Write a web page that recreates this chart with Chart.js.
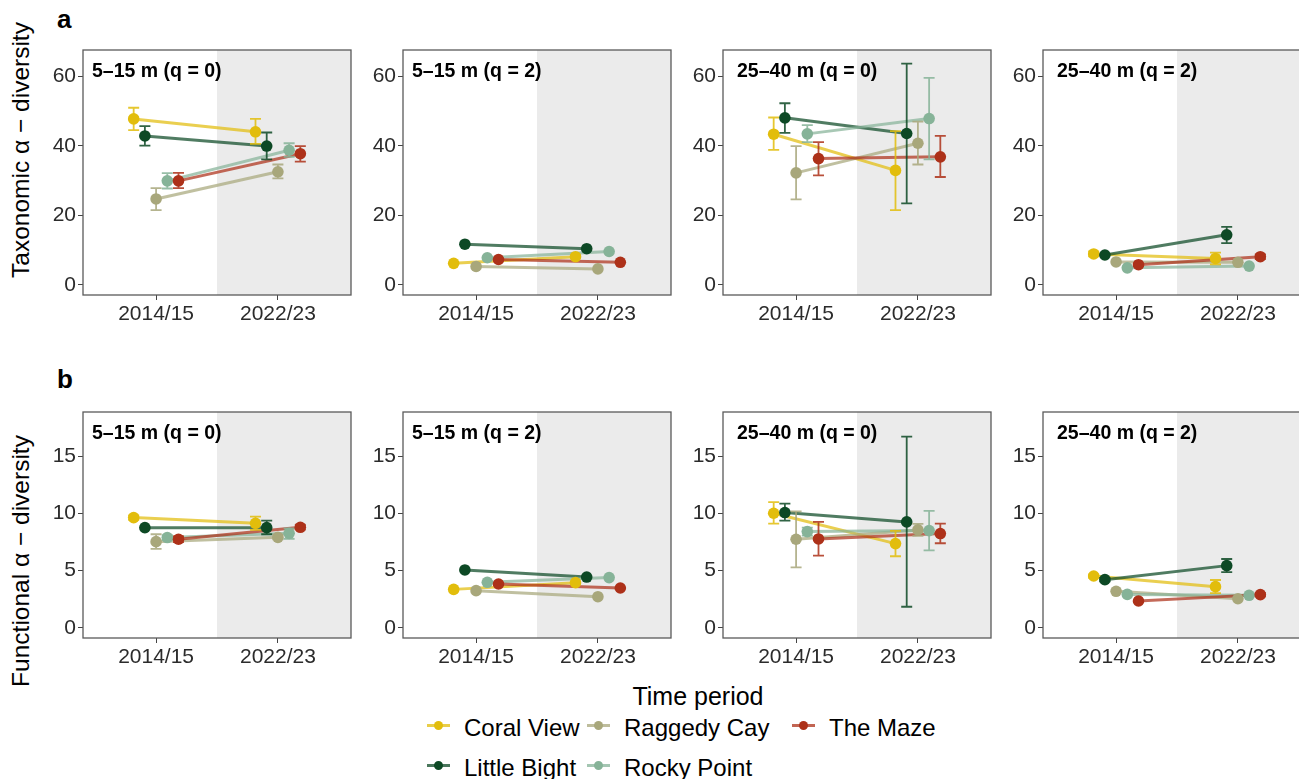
<!DOCTYPE html>
<html>
<head>
<meta charset="utf-8">
<title>Alpha diversity by site</title>
<script src="https://cdn.jsdelivr.net/npm/chart.js@4.4.1/dist/chart.umd.min.js"></script>
<style>
  html, body { margin: 0; padding: 0; background: #fff; }
  body {
    width: 1299px; height: 779px; overflow: hidden; position: relative;
    font-family: 'Liberation Sans', Arial, sans-serif; color: #000;
  }
  .abs { position: absolute; line-height: 1; white-space: nowrap; }
  .tag { font-weight: bold; font-size: 26px; }
  .ytitle { font-size: 24.5px; transform: translate(-50%, -50%) rotate(-90deg); }
  .xtitle { font-size: 25px; transform: translateX(-50%); }
  .panel { position: absolute; }
  .panel-title { position: absolute; font-weight: bold; font-size: 19.5px; line-height: 1; white-space: nowrap; }
  .legend-text { font-size: 24px; }
  .key { position: absolute; width: 23px; height: 3px; }
  .key i { position: absolute; left: 7px; top: -3px; width: 9px; height: 9px; border-radius: 50%; }
</style>
</head>
<body>
<div class="abs tag" style="left:57px; top:6px;">a</div>
<div class="abs tag" style="left:57px; top:366px;">b</div>
<div class="abs ytitle" style="left:21px; top:150px;">Taxonomic α − diversity</div>
<div class="abs ytitle" style="left:21px; top:561px;">Functional α − diversity</div>
<div class="abs xtitle" style="left:698px; top:684px;">Time period</div>
<div id="legend"></div>

<script>
const sites = ['Coral View', 'Little Bight', 'Raggedy Cay', 'Rocky Point', 'The Maze'];
const periods = ['2014/15', '2022/23'];
const siteColors = ['#E2BD0C', '#0D4925', '#A8A77B', '#86B398', '#AD3119'];
const panelTitles = ['5–15 m (q = 0)', '5–15 m (q = 2)', '25–40 m (q = 0)', '25–40 m (q = 2)'];

const taxTicks = [0, 20, 40, 60];
const funTicks = [0, 5, 10, 15];

// a: taxonomic, rows = sites, cols = periods
const taxShallowQ0Mean = [[47.7, 44.0], [42.8, 39.9], [24.7, 32.5], [29.9, 38.7], [29.9, 37.7]];
const taxShallowQ0Low  = [[44.5, 40.5], [40.0, 36.1], [21.5, 30.6], [27.7, 36.8], [27.8, 35.4]];
const taxShallowQ0High = [[50.9, 47.7], [45.6, 43.8], [27.8, 34.6], [32.1, 40.7], [32.2, 39.9]];

const taxShallowQ2Mean = [[6.2, 8.1], [11.7, 10.4], [5.3, 4.6], [7.8, 9.6], [7.3, 6.5]];

const taxDeepQ0Mean = [[43.3, 32.9], [48.0, 43.5], [32.2, 40.7], [43.4, 47.8], [36.3, 36.8]];
const taxDeepQ0Low  = [[38.8, 21.5], [43.7, 23.4], [24.6, 34.6], [41.0, 36.1], [31.5, 31.0]];
const taxDeepQ0High = [[48.1, 44.2], [52.2, 63.6], [39.9, 46.9], [45.9, 59.5], [41.0, 42.8]];

const taxDeepQ2Mean = [[8.9, 7.6], [8.6, 14.4], [6.6, 6.5], [4.9, 5.4], [5.8, 8.1]];
const taxDeepQ2Low  = [[8.2, 5.9], [null, 12.0], [null, null], [null, null], [null, 7.4]];
const taxDeepQ2High = [[9.6, 9.3], [null, 16.7], [null, null], [null, null], [null, 8.8]];

// b: functional
const funShallowQ0Mean = [[9.65, 9.15], [8.77, 8.77], [7.54, 7.92], [7.9, 8.27], [7.75, 8.8]];
const funShallowQ0Low  = [[9.45, 8.57], [null, 8.19], [6.9, 7.75], [7.7, 7.78], [7.5, 8.6]];
const funShallowQ0High = [[9.85, 9.74], [null, 9.39], [8.19, 8.1], [8.1, 8.71], [8.0, 9.0]];

const funShallowQ2Mean = [[3.36, 3.95], [5.06, 4.44], [3.25, 2.72], [3.98, 4.39], [3.83, 3.48]];

const funDeepQ0Mean = [[10.03, 7.37], [10.09, 9.27], [7.75, 8.57], [8.42, 8.51], [7.78, 8.25]];
const funDeepQ0Low  = [[9.12, 6.26], [9.39, 1.84], [5.29, 8.04], [8.07, 6.78], [6.32, 7.4]];
const funDeepQ0High = [[11.0, 8.48], [10.88, 16.75], [10.2, 9.09], [8.77, 10.23], [9.27, 9.12]];

const funDeepQ2Mean = [[4.53, 3.6], [4.21, 5.44], [3.19, 2.54], [2.92, 2.84], [2.34, 2.9]];
const funDeepQ2Low  = [[4.38, 3.04], [4.06, 4.88], [null, null], [null, null], [null, 2.75]];
const funDeepQ2High = [[4.68, 4.18], [4.36, 6.02], [null, null], [null, null], [null, 3.05]];

// layout
const FONT = "'Liberation Sans', Arial, sans-serif";
const AXIS_W = 50, PAD_TOP = 20, PAD_RIGHT = 6, X_AXIS_H = 40;
const PANEL_W = 268;
const panelLeft = [83, 403, 723, 1043];
const titleOffset = [9, 9, 14, 14];
const DODGE = 0.46, CAP = 5.5;

const rows = [
  { top: 50, height: 245, min: -2.9, max: 67.5, ticks: taxTicks,
    panels: [
      [taxShallowQ0Mean, taxShallowQ0Low, taxShallowQ0High],
      [taxShallowQ2Mean, null, null],
      [taxDeepQ0Mean, taxDeepQ0Low, taxDeepQ0High],
      [taxDeepQ2Mean, taxDeepQ2Low, taxDeepQ2High]
    ] },
  { top: 412, height: 226, min: -0.9, max: 18.9, ticks: funTicks,
    panels: [
      [funShallowQ0Mean, funShallowQ0Low, funShallowQ0High],
      [funShallowQ2Mean, null, null],
      [funDeepQ0Mean, funDeepQ0Low, funDeepQ0High],
      [funDeepQ2Mean, funDeepQ2Low, funDeepQ2High]
    ] }
];

function alpha(hex, a) {
  const n = parseInt(hex.slice(1), 16);
  return `rgba(${(n >> 16) & 255}, ${(n >> 8) & 255}, ${n & 255}, ${a})`;
}

function dodge(i) {
  return (i - (sites.length - 1) / 2) * DODGE / sites.length;
}

const panelDecor = {
  id: 'panelDecor',
  beforeDatasetsDraw(chart) {
    const { ctx, chartArea: a, scales: { x } } = chart;
    const x0 = x.getPixelForValue(1.5);
    ctx.save();
    ctx.fillStyle = '#EBEBEB';
    ctx.fillRect(x0, a.top, a.right - x0, a.bottom - a.top);
    ctx.restore();
  },
  beforeDatasetDraw(chart, args) {
    const ds = chart.data.datasets[args.index];
    if (ds.kind !== 'points' || !ds.low) return;
    const { ctx, scales: { x, y } } = chart;
    ctx.save();
    ctx.strokeStyle = alpha(ds.baseColor, 0.85);
    ctx.lineWidth = 1.8;
    ds.data.forEach((pt, j) => {
      if (ds.low[j] == null) return;
      const px = x.getPixelForValue(pt.x);
      const y1 = y.getPixelForValue(ds.low[j]);
      const y2 = y.getPixelForValue(ds.high[j]);
      ctx.beginPath();
      ctx.moveTo(px, y1); ctx.lineTo(px, y2);
      ctx.moveTo(px - CAP, y1); ctx.lineTo(px + CAP, y1);
      ctx.moveTo(px - CAP, y2); ctx.lineTo(px + CAP, y2);
      ctx.stroke();
    });
    ctx.restore();
  },
  afterDraw(chart) {
    const { ctx, chartArea: a } = chart;
    ctx.save();
    ctx.strokeStyle = '#5a5a5a';
    ctx.lineWidth = 1.3;
    ctx.strokeRect(a.left, a.top, a.right - a.left, a.bottom - a.top);
    ctx.restore();
  }
};

function makePanel(row, col) {
  const [mean, low, high] = row.panels[col];
  const w = AXIS_W + PANEL_W + PAD_RIGHT;
  const h = PAD_TOP + row.height + X_AXIS_H;

  const wrap = document.createElement('div');
  wrap.className = 'panel';
  wrap.style.left = (panelLeft[col] - AXIS_W) + 'px';
  wrap.style.top = (row.top - PAD_TOP) + 'px';
  wrap.style.width = w + 'px';
  wrap.style.height = h + 'px';

  const canvas = document.createElement('canvas');
  canvas.width = w;
  canvas.height = h;
  canvas.style.width = w + 'px';
  canvas.style.height = h + 'px';
  wrap.appendChild(canvas);

  const title = document.createElement('div');
  title.className = 'panel-title';
  title.textContent = panelTitles[col];
  title.style.left = (AXIS_W + titleOffset[col]) + 'px';
  title.style.top = (PAD_TOP + 10.5) + 'px';
  wrap.appendChild(title);
  document.body.appendChild(wrap);

  const lineSets = sites.map((site, i) => ({
    label: site,
    kind: 'line',
    order: 2 + (sites.length - 1 - i) / 10,
    data: periods.map((p, j) => ({ x: j + 1 + dodge(i), y: mean[i][j] })),
    borderColor: alpha(siteColors[i], 0.72),
    borderWidth: 3,
    pointRadius: 0,
    fill: false
  }));
  const pointSets = sites.map((site, i) => ({
    label: site,
    kind: 'points',
    order: 1 + (sites.length - 1 - i) / 10,
    baseColor: siteColors[i],
    low: low ? low[i] : null,
    high: high ? high[i] : null,
    data: periods.map((p, j) => ({ x: j + 1 + dodge(i), y: mean[i][j] })),
    showLine: false,
    pointRadius: 5.8,
    pointBorderWidth: 0,
    pointBackgroundColor: siteColors[i],
    borderColor: siteColors[i]
  }));

  const tickFont = { family: FONT, size: 21 };

  new Chart(canvas, {
    type: 'line',
    data: { datasets: [...lineSets, ...pointSets] },
    options: {
      responsive: false,
      animation: false,
      events: [],
      layout: { padding: { top: PAD_TOP, right: PAD_RIGHT, left: 0, bottom: 0 } },
      plugins: { legend: { display: false }, tooltip: { enabled: false } },
      scales: {
        x: {
          type: 'linear',
          min: 0.4,
          max: 2.6,
          afterBuildTicks: scale => { scale.ticks = periods.map((p, j) => ({ value: j + 1 })); },
          afterFit: scale => { scale.height = X_AXIS_H; },
          ticks: { callback: v => periods[v - 1], font: tickFont, color: '#2b2b2b', padding: 2, maxRotation: 0 },
          grid: { drawOnChartArea: false, tickLength: 5, color: '#444', lineWidth: 1 },
          border: { display: false }
        },
        y: {
          min: row.min,
          max: row.max,
          afterBuildTicks: scale => { scale.ticks = row.ticks.map(v => ({ value: v })); },
          afterFit: scale => { scale.width = AXIS_W; },
          ticks: { font: tickFont, color: '#2b2b2b', padding: 2 },
          grid: { drawOnChartArea: false, tickLength: 5, color: '#444', lineWidth: 1 },
          border: { display: false }
        }
      }
    },
    plugins: [panelDecor]
  });
}

function makeLegend() {
  const slots = [
    { x: 427, y: 725 }, { x: 427, y: 765 }, { x: 587, y: 725 }, { x: 587, y: 765 }, { x: 792, y: 725 }
  ];
  const textGap = 37;
  const box = document.getElementById('legend');
  sites.forEach((site, i) => {
    const s = slots[i];
    const key = document.createElement('div');
    key.className = 'key';
    key.style.left = s.x + 'px';
    key.style.top = (s.y - 1.5) + 'px';
    key.style.background = alpha(siteColors[i], 0.75);
    const dot = document.createElement('i');
    dot.style.background = siteColors[i];
    key.appendChild(dot);
    box.appendChild(key);

    const text = document.createElement('div');
    text.className = 'abs legend-text';
    text.textContent = site;
    text.style.left = (s.x + textGap) + 'px';
    text.style.top = (s.y - 9.5) + 'px';
    box.appendChild(text);
  });
}

window.addEventListener('load', () => {
  rows.forEach(row => row.panels.forEach((p, col) => makePanel(row, col)));
  makeLegend();
});
</script>
</body>
</html>
